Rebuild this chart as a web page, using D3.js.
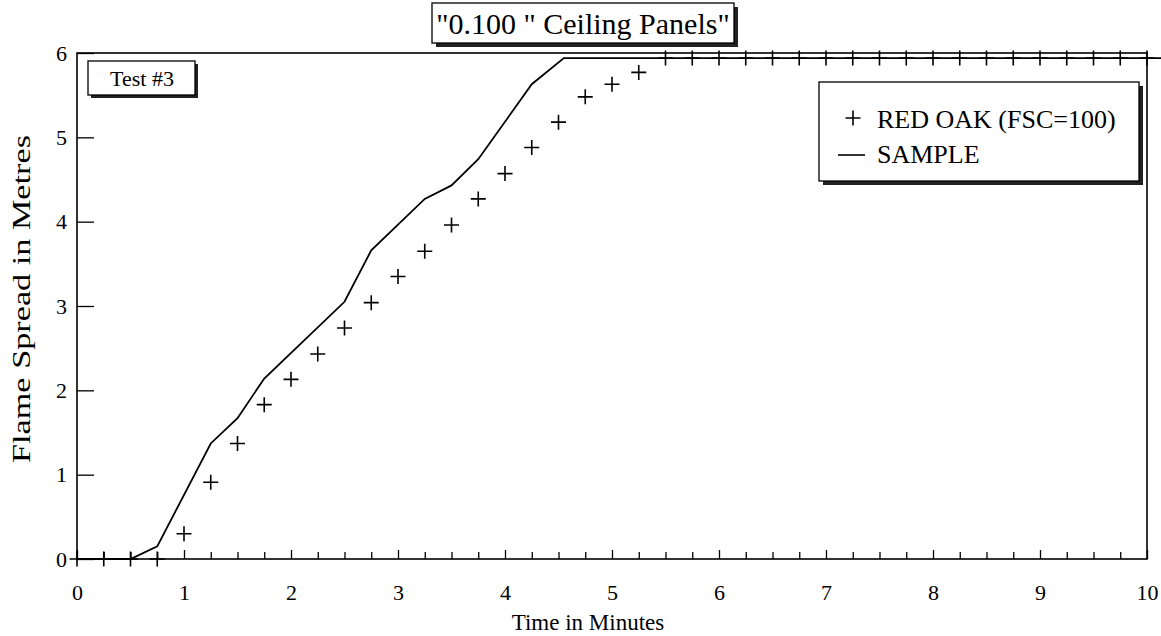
<!DOCTYPE html>
<html>
<head>
<meta charset="utf-8">
<script src="https://cdn.jsdelivr.net/npm/d3@7"></script>
<style>
  body { margin: 0; background: #fff; }
  svg { display: block; font-family: "Liberation Serif", "Times New Roman", serif; }
</style>
</head>
<body>
<div id="flameChart"></div>
<script>
// red oak calibration, one reading every quarter minute
var oakTimes = [0, 0.25, 0.5, 0.75, 1, 1.25, 1.5, 1.75, 2, 2.25, 2.5, 2.75, 3, 3.25, 3.5, 3.75,
  4, 4.25, 4.5, 4.75, 5, 5.25, 5.5, 5.75, 6, 6.25, 6.5, 6.75, 7, 7.25, 7.5, 7.75,
  8, 8.25, 8.5, 8.75, 9, 9.25, 9.5, 9.75, 10];
var oakSpread = [0, 0, 0, 0, 0.30, 0.91, 1.37, 1.83, 2.13, 2.43, 2.74, 3.04, 3.35, 3.65, 3.96, 4.27,
  4.57, 4.88, 5.18, 5.48, 5.63, 5.77, 5.94, 5.94, 5.94, 5.94, 5.94, 5.94, 5.94, 5.94, 5.94, 5.94,
  5.94, 5.94, 5.94, 5.94, 5.94, 5.94, 5.94, 5.94, 5.94];

// sample curve (break points)
var sampleTimes = [0, 0.25, 0.5, 0.75, 1.25, 1.5, 1.75, 2.5, 2.75, 3.25, 3.5, 3.75, 4.25, 4.55, 10.15];
var sampleSpread = [0, 0, 0, 0.15, 1.37, 1.67, 2.14, 3.05, 3.66, 4.27, 4.43, 4.74, 5.63, 5.94, 5.94];

var xTicks = d3.range(0, 10.01, 0.25);
var yTicks = [0, 1, 2, 3, 4, 5, 6];

var title = '"0.100 " Ceiling Panels"';
var testLabel = 'Test #3';
var legendNames = ['RED OAK (FSC=100)', 'SAMPLE'];
var xTitle = 'Time in Minutes';
var yTitle = 'Flame Spread in Metres';

var w = 1161;
var h = 636;

var x = d3.scaleLinear().domain([0, 10]).range([77, 1147]);
var y = d3.scaleLinear().domain([0, 6]).range([559, 53]);

var svg = d3.select('#flameChart')
  .append('svg')
  .attr('width', w)
  .attr('height', h);

// axes
var xAxis = svg.append('g')
  .attr('transform', 'translate(0,' + y(0) + ')')
  .call(d3.axisBottom(x)
    .tickValues(xTicks)
    .tickSize(-7)
    .tickSizeOuter(0)
    .tickPadding(25)
    .tickFormat(function(d) { return d % 1 === 0 ? d : ''; }));
xAxis.attr('font-family', null).attr('font-size', null);
xAxis.select('.domain').remove();
xAxis.selectAll('.tick line')
  .attr('y2', function(d) { return d % 1 === 0 ? -9 : -7; })
  .attr('stroke', '#000')
  .attr('stroke-width', 1.3);
xAxis.selectAll('.tick text')
  .attr('font-size', 22)
  .attr('fill', '#000');

var yAxis = svg.append('g')
  .attr('transform', 'translate(' + x(0) + ',0)')
  .call(d3.axisLeft(y)
    .tickValues(yTicks)
    .tickSize(-17)
    .tickSizeOuter(0)
    .tickPadding(10)
    .tickFormat(d3.format('d')));
yAxis.attr('font-family', null).attr('font-size', null);
yAxis.select('.domain').remove();
yAxis.selectAll('.tick line')
  .attr('stroke', '#000')
  .attr('stroke-width', 1.3);
yAxis.selectAll('.tick text')
  .attr('font-size', 22)
  .attr('fill', '#000');

// frame
svg.append('rect')
  .attr('x', x(0))
  .attr('y', y(6))
  .attr('width', x(10) - x(0))
  .attr('height', y(0) - y(6))
  .attr('fill', 'none')
  .attr('stroke', '#000')
  .attr('stroke-width', 1.6);

// sample line
var line = d3.line()
  .x(function(d) { return x(d[0]); })
  .y(function(d) { return y(d[1]); });

svg.append('path')
  .datum(d3.zip(sampleTimes, sampleSpread))
  .attr('d', line)
  .attr('fill', 'none')
  .attr('stroke', '#000')
  .attr('stroke-width', 1.8);

// red oak crosses
var cross = 7.5;
svg.append('g')
  .selectAll('path')
  .data(d3.zip(oakTimes, oakSpread))
  .enter()
  .append('path')
  .attr('d', function(d) {
    var cx = x(d[0]), cy = y(d[1]);
    return 'M' + (cx - cross) + ',' + cy + 'H' + (cx + cross) +
      'M' + cx + ',' + (cy - cross) + 'V' + (cy + cross);
  })
  .attr('stroke', '#000')
  .attr('stroke-width', 1.6)
  .attr('fill', 'none');

// boxes with drop shadow
function shadowBox(x0, y0, bw, bh, off) {
  svg.append('rect')
    .attr('x', x0 + off).attr('y', y0 + off)
    .attr('width', bw).attr('height', bh)
    .attr('fill', '#222');
  svg.append('rect')
    .attr('x', x0).attr('y', y0)
    .attr('width', bw).attr('height', bh)
    .attr('fill', '#fff')
    .attr('stroke', '#000')
    .attr('stroke-width', 1.3);
}

shadowBox(432, 3, 302, 40, 4);
svg.append('text')
  .attr('x', 583)
  .attr('y', 34)
  .attr('text-anchor', 'middle')
  .attr('font-size', 30)
  .text(title);

shadowBox(88, 61, 107, 34, 3);
svg.append('text')
  .attr('x', 142)
  .attr('y', 86)
  .attr('text-anchor', 'middle')
  .attr('font-size', 22)
  .text(testLabel);

// legend
shadowBox(819, 82, 320, 99, 4);
svg.append('path')
  .attr('d', 'M' + (853 - cross) + ',118H' + (853 + cross) + 'M853,' + (118 - cross) + 'V' + (118 + cross))
  .attr('stroke', '#000')
  .attr('stroke-width', 1.6);
svg.append('line')
  .attr('x1', 838).attr('x2', 865)
  .attr('y1', 155).attr('y2', 155)
  .attr('stroke', '#000')
  .attr('stroke-width', 1.6);
svg.selectAll('.legendText')
  .data(legendNames)
  .enter()
  .append('text')
  .attr('class', 'legendText')
  .attr('x', 877)
  .attr('y', function(d, i) { return 128 + i * 35; })
  .attr('font-size', 26)
  .text(function(d) { return d; });

// axis titles
svg.append('text')
  .attr('x', 588)
  .attr('y', 630)
  .attr('text-anchor', 'middle')
  .attr('font-size', 23)
  .text(xTitle);

svg.append('text')
  .attr('transform', 'translate(30,299) rotate(-90)')
  .attr('text-anchor', 'middle')
  .attr('font-size', 26)
  .attr('textLength', 328)
  .attr('lengthAdjust', 'spacingAndGlyphs')
  .text(yTitle);
</script>
</body>
</html>
